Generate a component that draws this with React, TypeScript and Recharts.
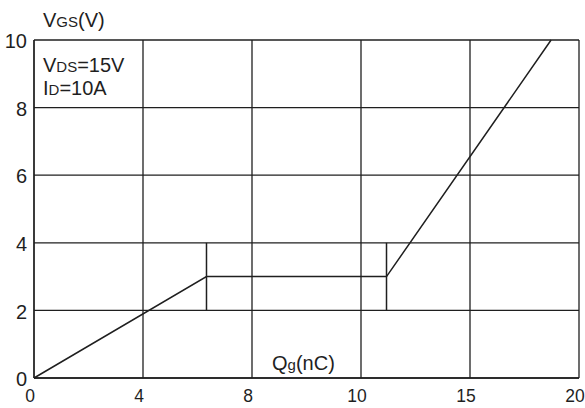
import { CartesianGrid, Line, LineChart, XAxis, YAxis } from "recharts";

// Gate charge characteristic: VGS vs Qg (VDS=15V, ID=10A)
const qgTicks = [0, 4, 8, 10, 15, 20];
const vgsTicks = [0, 2, 4, 6, 8, 10];
const curveQg = [0, 6.33, 11.17, 18.72];
const curveVgs = [0, 3, 3, 10];
const plateauMarkQg = [6.33, 11.17];
const plateauMarkVgs = [2, 4];

// x axis is drawn with evenly spaced grid cells whose labels are not linear,
// so map nC onto the cell index
function qgToAxis(q: number): number {
  for (let i = 0; i < qgTicks.length - 1; i++) {
    if (q <= qgTicks[i + 1]) {
      return i + (q - qgTicks[i]) / (qgTicks[i + 1] - qgTicks[i]);
    }
  }
  return qgTicks.length - 1;
}

const curveData = curveQg.map((q, i) => ({ x: qgToAxis(q), y: curveVgs[i] }));
const markData = plateauMarkQg.map((q) =>
  plateauMarkVgs.map((v) => ({ x: qgToAxis(q), y: v }))
);
const axisTicks = qgTicks.map((_, i) => i);

const INK = "#1f1f1f";
const FONT = "'Liberation Sans', Arial, sans-serif";

export default function App() {
  return (
    <div style={{ position: "absolute", left: 0, top: 0, width: 585, height: 408, background: "#fff" }}>
      <LineChart
        width={585}
        height={408}
        margin={{ top: 40, right: 6, bottom: 0, left: 0 }}
      >
        <CartesianGrid stroke={INK} strokeWidth={1.3} />
        <XAxis
          dataKey="x"
          type="number"
          domain={[0, qgTicks.length - 1]}
          ticks={axisTicks}
          tickFormatter={(v: number) => String(qgTicks[v])}
          interval={0}
          height={30}
          tickLine={false}
          tickSize={0}
          tickMargin={12}
          axisLine={{ stroke: INK, strokeWidth: 1.3 }}
          tick={{ fill: INK, fontSize: 17.5, fontFamily: FONT, dx: -4 }}
        />
        <YAxis
          type="number"
          domain={[0, 10]}
          ticks={vgsTicks}
          interval={0}
          width={34}
          tickLine={false}
          tickSize={0}
          tickMargin={7}
          axisLine={{ stroke: INK, strokeWidth: 1.3 }}
          tick={{ fill: INK, fontSize: 20, fontFamily: FONT, dy: 1 }}
        />
        <Line
          data={curveData}
          dataKey="y"
          type="linear"
          stroke={INK}
          strokeWidth={1.5}
          dot={false}
          isAnimationActive={false}
        />
        {markData.map((d, i) => (
          <Line
            key={i}
            data={d}
            dataKey="y"
            type="linear"
            stroke={INK}
            strokeWidth={1.5}
            dot={false}
            isAnimationActive={false}
          />
        ))}
      </LineChart>
      <svg
        width={585}
        height={408}
        style={{ position: "absolute", left: 0, top: 0, pointerEvents: "none" }}
        fontFamily={FONT}
        fill={INK}
      >
        <text x={43} y={27} fontSize={20}>
          V<tspan fontSize={15}>GS</tspan>(V)
        </text>
        <text x={43} y={71.5} fontSize={20}>
          V<tspan fontSize={15}>DS</tspan>=15V
        </text>
        <text x={43} y={95} fontSize={20}>
          I<tspan fontSize={15}>D</tspan>=10A
        </text>
        <text x={272} y={370} fontSize={20}>
          Q<tspan fontSize={15}>g</tspan>(nC)
        </text>
      </svg>
    </div>
  );
}
